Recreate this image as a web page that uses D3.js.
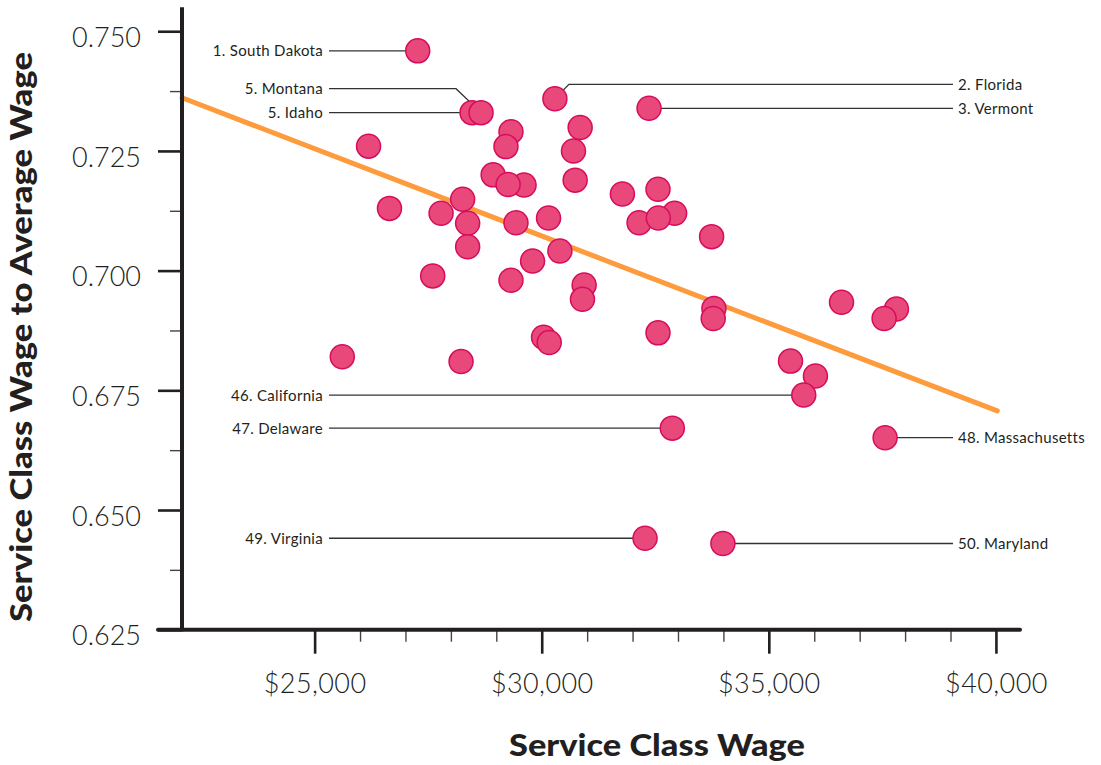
<!DOCTYPE html>
<html>
<head>
<meta charset="utf-8">
<script src="https://cdn.jsdelivr.net/npm/d3@7"></script>
<style>
  html, body { margin: 0; padding: 0; background: #ffffff; }
  svg { display: block; }
</style>
</head>
<body>
<svg id="chart" width="1101" height="765"></svg>
<script>
// ---------- DATA ----------
// Unlabelled states (service class wage, ratio to average wage)
const otherWages = [26187, 29323, 29213, 30846, 30699, 30736, 28930, 29611, 29260, 26648,
                    27784, 28259, 28369, 28369, 29433, 30150, 30400, 29798, 31776, 32560,
                    32926, 32143, 32567, 33740, 27600, 29323, 30934, 30897, 30040, 30165,
                    25609, 28224, 32560, 33791, 33776, 36600, 37809, 37538, 35477, 36026];
const otherRatios = [0.7260, 0.7290, 0.7259, 0.7299, 0.7250, 0.7189, 0.7200, 0.7179, 0.7180, 0.7130,
                     0.7120, 0.7149, 0.7099, 0.7050, 0.7100, 0.7110, 0.7041, 0.7020, 0.7160, 0.7170,
                     0.7120, 0.7100, 0.7110, 0.7071, 0.6989, 0.6980, 0.6970, 0.6940, 0.6861, 0.6850,
                     0.6820, 0.6810, 0.6870, 0.6921, 0.6900, 0.6934, 0.6920, 0.6900, 0.6811, 0.6780];

// Labelled states
const labelNames  = ["1. South Dakota", "2. Florida", "3. Vermont", "5. Idaho", "5. Montana",
                     "46. California", "47. Delaware", "48. Massachusetts", "49. Virginia", "50. Maryland"];
const labelWages  = [27270, 30290, 32363, 28466, 28664, 35769, 32875, 37560, 32275, 33989];
const labelRatios = [0.7459, 0.7359, 0.7339, 0.7330, 0.7330, 0.6740, 0.6671, 0.6651, 0.6441, 0.6430];
const labelSides  = ["left", "right", "right", "left", "left", "left", "left", "right", "left", "right"];

// Trend line end points
const trendWages  = [22080, 40030];
const trendRatios = [0.7361, 0.6707];

// Ticks
const yMajorTicks = [0.625, 0.650, 0.675, 0.700, 0.725, 0.750];
const yMinorTicks = [0.6375, 0.6625, 0.6875, 0.7125, 0.7375];
const xMajorTicks = [25000, 30000, 35000, 40000];
const xMinorTicks = [26000, 27000, 28000, 29000, 31000, 32000, 33000, 34000, 36000, 37000, 38000, 39000];

const xTitle = "Service Class Wage";
const yTitle = "Service Class Wage to Average Wage";

// ---------- LAYOUT ----------
const svg = d3.select("#chart");
const x = d3.scaleLinear().domain([22080, 40530]).range([182, 1020]);
const y = d3.scaleLinear().domain([0.625, 0.755]).range([629.7, 7.3]);

const FONT = "Lato, 'Open Sans', sans-serif";
const INK = "#231f20";
const leftLabelX = 323, rightLabelX = 958;
// elbow leaders for crowded labels: label y (in data units) and elbow offset (px)
const elbows = { "5. Montana": { ry: 0.7380, dx: -25 }, "2. Florida": { ry: 0.7389, dx: 14 } };

// ---------- TREND LINE ----------
svg.append("path")
  .datum(d3.range(trendWages.length))
  .attr("d", d3.line().x(i => x(trendWages[i])).y(i => y(trendRatios[i])))
  .attr("fill", "none")
  .attr("stroke", "#fd9b3d")
  .attr("stroke-width", 5)
  .attr("stroke-linecap", "round");

// ---------- LEADER LINES + LABELS ----------
const labelData = labelNames.map((n, i) => ({
  name: n, wage: labelWages[i], ratio: labelRatios[i], side: labelSides[i]
}));

const lg = svg.append("g");
labelData.forEach(d => {
  const cx = x(d.wage), cy = y(d.ratio);
  const e = elbows[d.name];
  const ly = e ? y(e.ry) : cy;
  const endX = d.side === "left" ? leftLabelX + 6 : rightLabelX - 5;
  const pts = e ? [[cx, cy], [cx + e.dx, ly], [endX, ly]] : [[cx, cy], [endX, ly]];
  lg.append("path")
    .attr("d", d3.line()(pts))
    .attr("fill", "none")
    .attr("stroke", "#333")
    .attr("stroke-width", 1.3);
  lg.append("text")
    .attr("x", d.side === "left" ? leftLabelX : rightLabelX)
    .attr("y", ly)
    .attr("dy", "0.36em")
    .attr("text-anchor", d.side === "left" ? "end" : "start")
    .attr("font-family", FONT)
    .attr("font-size", 15)
    .attr("letter-spacing", 0.3)
    .attr("fill", INK)
    .text(d.name);
});

// ---------- DOTS ----------
const dots = otherWages.map((w, i) => ({ wage: w, ratio: otherRatios[i] }))
  .concat(labelData);
svg.append("g").selectAll("circle")
  .data(dots)
  .join("circle")
  .attr("cx", d => x(d.wage))
  .attr("cy", d => y(d.ratio))
  .attr("r", 12)
  .attr("fill", "#e8487a")
  .attr("stroke", "#d70c5c")
  .attr("stroke-width", 1.5);

// ---------- AXES ----------
function styleAxis(g, width, color) {
  g.selectAll(".tick line").attr("stroke", color).attr("stroke-width", width);
  g.select(".domain").remove();
}

// minor ticks
const yMinor = svg.append("g").attr("transform", "translate(182,0)")
  .call(d3.axisLeft(y).tickValues(yMinorTicks).tickSize(12).tickFormat(""));
styleAxis(yMinor, 1.4, "#444");
const xMinor = svg.append("g").attr("transform", "translate(0,629.7)")
  .call(d3.axisBottom(x).tickValues(xMinorTicks).tickSize(12).tickFormat(""));
styleAxis(xMinor, 1.4, "#444");

// major ticks with labels
const yAxis = svg.append("g").attr("transform", "translate(182,0)")
  .call(d3.axisLeft(y).tickValues(yMajorTicks).tickSize(24).tickPadding(17).tickFormat(d3.format(".3f")));
styleAxis(yAxis, 2.6, INK);
yAxis.selectAll("text")
  .attr("dy", "0.56em")
  .attr("font-family", FONT)
  .attr("font-weight", 300)
  .attr("font-size", 27)
  .attr("fill", INK);

const xAxis = svg.append("g").attr("transform", "translate(0,629.7)")
  .call(d3.axisBottom(x).tickValues(xMajorTicks).tickSize(24).tickFormat(d => "$" + d3.format(",")(d)));
styleAxis(xAxis, 2.6, INK);
xAxis.selectAll("text")
  .attr("y", 63)
  .attr("dy", 0)
  .attr("font-family", FONT)
  .attr("font-weight", 300)
  .attr("font-size", 27)
  .attr("letter-spacing", 0.4)
  .attr("fill", INK);

// axis lines
svg.append("line")
  .attr("x1", x.range()[0]).attr("x2", x.range()[0])
  .attr("y1", y.range()[0] + 1.5).attr("y2", y.range()[1])
  .attr("stroke", INK).attr("stroke-width", 4);
svg.append("line")
  .attr("x1", 158).attr("x2", x.range()[1])
  .attr("y1", y.range()[0]).attr("y2", y.range()[0])
  .attr("stroke", INK).attr("stroke-width", 4)
  .attr("stroke-linecap", "round");

// ---------- TITLES ----------
svg.append("text")
  .attr("x", 657).attr("y", 756)
  .attr("text-anchor", "middle")
  .attr("font-family", FONT)
  .attr("font-weight", 900)
  .attr("font-size", 30)
  .attr("fill", INK)
  .attr("textLength", 296)
  .attr("lengthAdjust", "spacingAndGlyphs")
  .text(xTitle);

svg.append("text")
  .attr("transform", "translate(32,337) rotate(-90)")
  .attr("text-anchor", "middle")
  .attr("font-family", FONT)
  .attr("font-weight", 900)
  .attr("font-size", 30)
  .attr("fill", INK)
  .attr("textLength", 570)
  .attr("lengthAdjust", "spacingAndGlyphs")
  .text(yTitle);
</script>
</body>
</html>
